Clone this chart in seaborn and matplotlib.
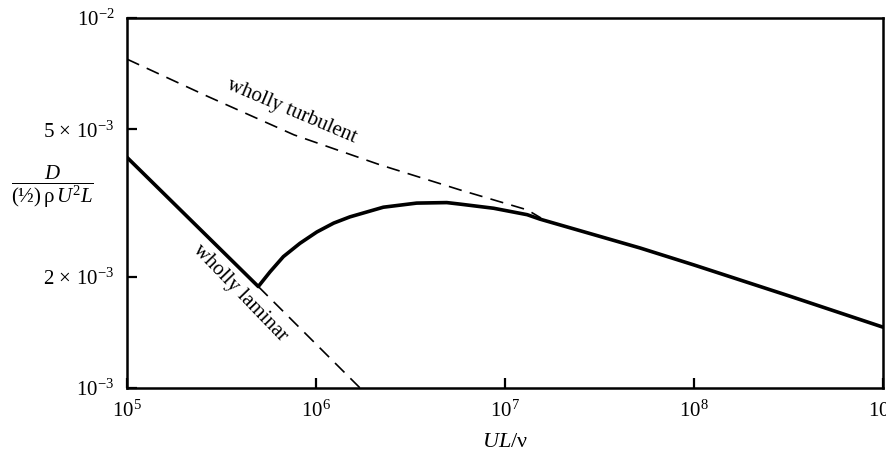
import numpy as np
import pandas as pd
import matplotlib
matplotlib.use("Agg")
import matplotlib.pyplot as plt
import seaborn as sns

# values (Reynolds number UL/nu vs drag coefficient)
turb_re = [1e5, 2.65e5, 7.66e5, 2.18e6, 5.78e6, 1.31e7, 1.55e7]
turb_cd = [7.74e-3, 6.15e-3, 4.83e-3, 4.01e-3, 3.43e-3, 3.03e-3, 2.88e-3]

lam_re = [4.95e5, 1.71e6]
lam_cd = [1.88e-3, 1.0e-3]

curve_re = [1e5, 4.95e5, 5.71e5, 6.72e5, 8.22e5, 1.01e6, 1.24e6, 1.51e6, 2.27e6,
            3.41e6, 4.92e6, 5.78e6, 8.71e6, 1.31e7, 1.53e7, 5.18e7, 1e8, 3.22e8, 1e9]
curve_cd = [4.2e-3, 1.88e-3, 2.06e-3, 2.265e-3, 2.46e-3, 2.64e-3, 2.79e-3, 2.90e-3, 3.08e-3,
            3.16e-3, 3.17e-3, 3.14e-3, 3.06e-3, 2.94e-3, 2.86e-3, 2.39e-3, 2.15e-3, 1.77e-3, 1.46e-3]

xticks = [1e5, 1e6, 1e7, 1e8, 1e9]
xtick_labels = ["$10^5$", "$10^6$", "$10^7$", "$10^8$", "$10^9$"]
yticks = [1e-3, 2e-3, 5e-3, 1e-2]
ytick_labels = ["$10^{-3}$", r"$2\,\times\,10^{-3}$", r"$5\,\times\,10^{-3}$", "$10^{-2}$"]

sns.set_theme(style="ticks")
plt.rcParams["font.family"] = ["Liberation Serif", "DejaVu Serif"]
plt.rcParams["mathtext.fontset"] = "custom"
plt.rcParams["mathtext.rm"] = "Liberation Serif"
plt.rcParams["mathtext.it"] = "Liberation Serif:italic"
plt.rcParams["mathtext.bf"] = "Liberation Serif:bold"

fig = plt.figure(figsize=(8.87, 4.61), dpi=100)
ax = fig.add_axes([0.1432, 0.1584, 0.8523, 0.8026])

turb = pd.DataFrame({"re": turb_re, "cd": turb_cd})
lam = pd.DataFrame({"re": lam_re, "cd": lam_cd})
curve = pd.DataFrame({"re": curve_re, "cd": curve_cd})

sns.lineplot(data=turb, x="re", y="cd", ax=ax, color="black", lw=1.2,
             estimator=None, sort=False)
ax.lines[-1].set_dashes((8, 5))
sns.lineplot(data=lam, x="re", y="cd", ax=ax, color="black", lw=1.2,
             estimator=None, sort=False)
ax.lines[-1].set_dashes((8, 5))
sns.lineplot(data=curve, x="re", y="cd", ax=ax, color="black", lw=2.6,
             estimator=None, sort=False)
ax.lines[-1].set_solid_joinstyle("round")

ax.set_xscale("log")
ax.set_yscale("log")
ax.set_xlim(1e5, 1e9)
ax.set_ylim(1e-3, 1e-2)
ax.minorticks_off()
ax.set_xticks(xticks)
ax.set_xticklabels(xtick_labels)
ax.set_yticks(yticks)
ax.set_yticklabels(ytick_labels)
ax.tick_params(direction="in", length=7, width=1.6, labelsize=15, pad=9,
               colors="black", labelcolor="black")

for s in ax.spines.values():
    s.set_visible(True)
    s.set_linewidth(1.8)
    s.set_color("black")

ax.set_xlabel("$UL/\\mathrm{ν}$", fontsize=16, labelpad=8, color="black")
ax.set_ylabel("")
ax.text(-0.099, 0.543, r"$\dfrac{D}{\mathrm{(½)\,ρ}\,U^2 L}$", transform=ax.transAxes,
        fontsize=15, ha="center", va="center", color="black")

ax.text(7.4e5, 5.6e-3, "wholly turbulent", fontsize=15, rotation=-23,
        ha="center", va="center", color="black")
ax.text(3.95e5, 1.81e-3, "wholly laminar", fontsize=15, rotation=-46,
        ha="center", va="center", color="black")

fig.savefig("out.png", dpi=100)
